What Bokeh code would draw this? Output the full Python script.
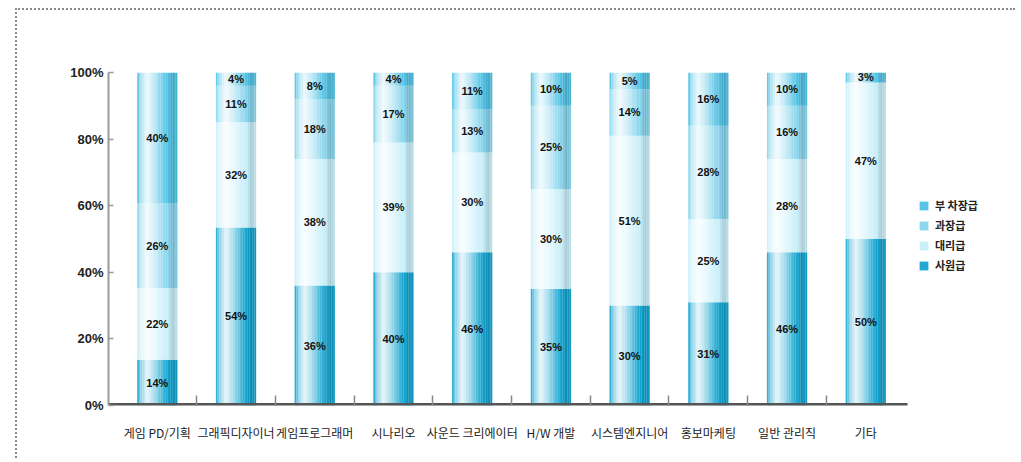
import numpy as np
from bokeh.plotting import figure
from bokeh.models import (ColumnDataSource, FixedTicker, PrintfTickFormatter,
                          Legend, LegendItem)
from bokeh.core.properties import value
from bokeh.embed import file_html
from bokeh.resources import INLINE

# ---------------- data ----------------
categories = ["게임 PD/기획", "그래픽디자이너", "게임프로그래머", "시나리오",
              "사운드 크리에이터", "H/W 개발", "시스템엔지니어", "홍보마케팅",
              "일반 관리직", "기타"]
series_names = ["사원급", "대리급", "과장급", "부 차장급"]
sawon  = [14, 54, 36, 40, 46, 35, 30, 31, 46, 50]
daeri  = [22, 32, 38, 39, 30, 30, 51, 25, 28, 47]
gwajang = [26, 11, 18, 17, 13, 25, 14, 28, 16, 0]
bucha  = [40, 4, 8, 4, 11, 10, 5, 16, 10, 3]
y_ticks = [0, 20, 40, 60, 80, 100]

series_values = [sawon, daeri, gwajang, bucha]
base_colors = ["#12a3cf", "#c6eef9", "#86d4ec", "#4fc1e4"]

# ---------------- helpers ----------------
def hex2rgb(h):
    h = h.lstrip("#")
    return tuple(int(h[i:i + 2], 16) for i in (0, 2, 4))

def shade(h, t):
    r, g, b = hex2rgb(h)
    if t >= 0:
        r, g, b = [c + (255 - c) * t for c in (r, g, b)]
    else:
        r, g, b = [c * (1 + t) for c in (r, g, b)]
    return "#%02x%02x%02x" % tuple(int(round(max(0, min(255, c)))) for c in (r, g, b))

# cylinder shading profile (style only): position across bar -> lighten(+)/darken(-)
ctrl_pos = [0.0, 0.08, 0.25, 0.45, 0.7, 0.88, 1.0]
ctrl_val = [0.0, 0.5, 0.9, 0.6, 0.1, -0.15, -0.05]
n_strips = 24
profile = list(np.interp((np.arange(n_strips) + 0.5) / n_strips, ctrl_pos, ctrl_val))
legend_strip = int(n_strips * 0.72)
bar_w = 0.51
strip_w = bar_w / n_strips

# ---------------- layout ----------------
W, H = 1000, 450
ML, MR, MT, MB = 91, 5, 62, 55
x_start, x_axis_end = -0.62, 9.53
axis_px = 799.0
ppu = axis_px / (x_axis_end - x_start)
frame_w = W - ML - MR
frame_h = H - MT - MB
x_end = x_start + frame_w / ppu

p = figure(width=W, height=H, output_backend="svg", toolbar_location=None,
           x_range=(x_start, x_end), y_range=(0, 100),
           min_border_left=ML, min_border_top=MT, min_border_bottom=MB,
           min_border_right=MR)
p.styles = {"margin-left": "15px", "margin-top": "8px",
            "border-top": "2px dotted #8a8a8a", "border-left": "2px dotted #8a8a8a"}
p.outline_line_color = None
p.grid.grid_line_color = None
p.background_fill_color = "white"

totals = [sum(s[i] for s in series_values) for i in range(len(categories))]
xs = list(range(len(categories)))

bottoms = [0.0] * len(categories)
lab_x, lab_y, lab_t = [], [], []
legend_renderers = []
for si, vals in enumerate(series_values):
    b, t = [], []
    for i, v in enumerate(vals):
        h = v / totals[i] * 100
        b.append(bottoms[i])
        t.append(bottoms[i] + h)
        if v > 0:
            lab_x.append(xs[i])
            lab_y.append(bottoms[i] + h / 2)
            lab_t.append(f"{v}%")
    for k, f in enumerate(profile):
        off = -bar_w / 2 + strip_w * (k + 0.5)
        src = ColumnDataSource(dict(x=[x + off for x in xs], bottom=b, top=t))
        r = p.vbar(x="x", bottom="bottom", top="top", width=strip_w * 1.08, source=src,
                   fill_color=shade(base_colors[si], f), line_color=None)
        if k == legend_strip:
            legend_renderers.append(r)
    bottoms = t

p.text(x=lab_x, y=lab_y, text=lab_t, text_align="center", text_baseline="middle",
       text_font=value("Liberation Sans"), text_font_style="bold",
       text_font_size="11px", text_color="#111111")

# x axis band (drawn over the category span only)
p.segment(x0=[x_start], y0=[0], x1=[x_axis_end], y1=[0], line_width=5,
          line_color="#555555")

items = [LegendItem(label=series_names[si], renderers=[legend_renderers[si]])
         for si in range(len(series_names))]
legend = Legend(items=list(reversed(items)), location=(810, 132),
                label_text_font="Noto Sans CJK KR", label_text_font_size="11px",
                label_text_font_style="bold", label_text_color="#222222",
                glyph_width=11, glyph_height=11, label_height=13, spacing=4,
                padding=2, margin=0, border_line_color=None,
                background_fill_alpha=0, label_standoff=6)
p.add_layout(legend, "center")

# axes
xa = p.xaxis[0]
xa.ticker = FixedTicker(ticks=xs, minor_ticks=[x + 0.5 for x in xs[:-1]])
xa.major_label_overrides = {i: c for i, c in enumerate(categories)}
xa.major_label_text_font = "Noto Sans CJK KR"
xa.major_label_text_font_size = "12px"
xa.major_label_text_color = "#222222"
xa.major_label_standoff = 12
xa.axis_line_color = None
xa.major_tick_line_color = None
xa.minor_tick_in = 10
xa.minor_tick_out = 0
xa.minor_tick_line_color = "#888888"
xa.minor_tick_line_width = 1.5

ya = p.yaxis[0]
ya.ticker = FixedTicker(ticks=y_ticks, minor_ticks=[])
ya.formatter = PrintfTickFormatter(format="%d%%")
ya.major_label_text_font = "Liberation Sans"
ya.major_label_text_font_style = "bold"
ya.major_label_text_font_size = "13px"
ya.major_label_text_color = "#222222"
ya.axis_line_color = "#999999"
ya.axis_line_width = 2
ya.major_tick_in = 5
ya.major_tick_out = 0
ya.major_tick_line_color = "#999999"
ya.major_tick_line_width = 1.5
ya.major_label_standoff = 5

open("out.html", "w").write(file_html(p, INLINE))
